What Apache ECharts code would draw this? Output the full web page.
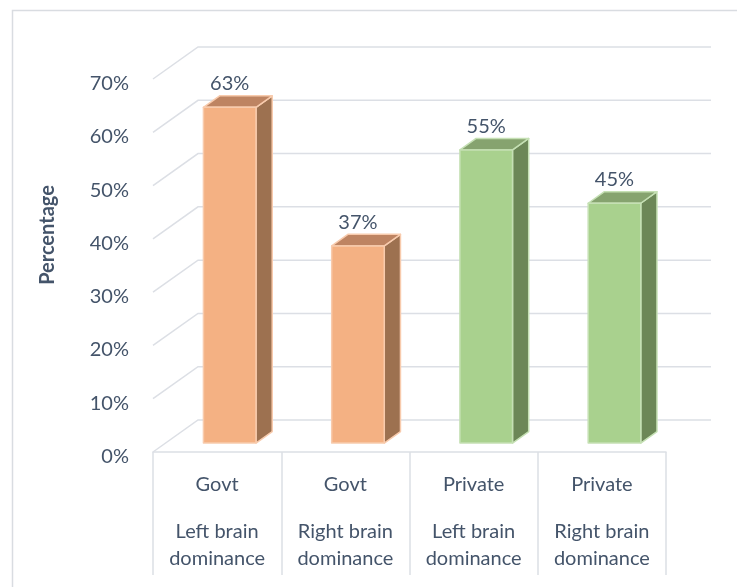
<!DOCTYPE html>
<html>
<head>
<meta charset="utf-8">
<script src="https://cdn.jsdelivr.net/npm/echarts@6/dist/echarts.min.js"></script>
<style>
  html, body { margin: 0; padding: 0; background: #fff; }
  #chart { width: 737px; height: 587px; }
</style>
</head>
<body>
<div id="chart"></div>
<script>
// Groups and sub-categories on the two-level category axis
const groups = ['Govt', 'Govt', 'Private', 'Private'];
const subLabels = ['Left brain\ndominance', 'Right brain\ndominance', 'Left brain\ndominance', 'Right brain\ndominance'];
// Share of students in each group
const values = [0.63, 0.37, 0.55, 0.45];
// Value axis ticks
const tickValues = [0, 0.1, 0.2, 0.3, 0.4, 0.5, 0.6, 0.7];

const TEXT = '#44546A';
const GRID = '#DCDFE5';
const FONT = 'Lato, "Open Sans", sans-serif';

// Oblique projection of the floor depth
const DX = 45, DY = -32;
// Depth slice occupied by the bars (fraction of full depth)
const F0 = 0.28, F1 = 0.64;
const BAR_RATIO = 0.41;

const palette = {
  Govt:    { front: '#F4B183', top: '#BE8462', side: '#9D7150', edge: '#F8CBAD' },
  Private: { front: '#A9D18E', top: '#86A36F', side: '#6C8757', edge: '#C5E0B4' }
};

const pct = v => Math.round(v * 100) + '%';
const categoryData = groups.map((g, i) => g + '\n' + subLabels[i]);

const chart = echarts.init(document.getElementById('chart'), null, { renderer: 'canvas' });

chart.setOption({
  backgroundColor: '#fff',
  animation: false,
  textStyle: { fontFamily: FONT },
  grid: { left: 153, right: 71, top: 79, bottom: 135, containLabel: false, outerBoundsMode: 'none' },
  graphic: [
    {
      type: 'rect', silent: true, z: -10,
      shape: { x: 12.5, y: 10.5, width: 900, height: 800 },
      style: { fill: 'none', stroke: '#D9DCE1', lineWidth: 1.5 }
    },
    {
      type: 'text', silent: true,
      x: 48, y: 235, rotation: Math.PI / 2,
      style: {
        text: 'Percentage', align: 'center', verticalAlign: 'middle',
        font: 'bold 20px ' + FONT, fill: TEXT
      }
    }
  ],
  xAxis: {
    type: 'category',
    data: categoryData,
    boundaryGap: true,
    axisLine: { show: true, lineStyle: { color: GRID, width: 1.5 } },
    axisTick: { show: true, interval: 0, length: 123, lineStyle: { color: GRID, width: 1.5 } },
    axisLabel: {
      interval: 0,
      margin: 0,
      hideOverlap: false,
      formatter: v => {
        const parts = v.split('\n');
        return '{a|' + parts[0] + '}\n' + parts.slice(1).map(p => '{b|' + p + '}').join('\n');
      },
      rich: {
        a: { fontSize: 20, lineHeight: 66, color: TEXT, fontFamily: FONT },
        b: { fontSize: 20, lineHeight: 27, color: TEXT, fontFamily: FONT }
      }
    },
    splitLine: { show: false }
  },
  yAxis: {
    type: 'value',
    min: 0, max: 0.7, interval: 0.1,
    axisLine: { show: false },
    axisTick: { show: false },
    splitLine: { show: false },
    axisLabel: {
      margin: 24,
      formatter: pct,
      color: TEXT, fontSize: 20, fontFamily: FONT,
      verticalAlign: 'top',
      lineHeight: 9
    }
  },
  series: [
    {
      // side wall and back wall gridlines
      type: 'custom',
      z: 1,
      silent: true,
      data: tickValues.map(v => [0, v]),
      encode: { x: 0, y: 1 },
      renderItem: (params, api) => {
        const y = api.coord([0, api.value(1)])[1];
        const cs = params.coordSys;
        return {
          type: 'polyline',
          shape: { points: [[cs.x, y], [cs.x + DX, y + DY], [cs.x + cs.width + DX, y + DY]] },
          style: { stroke: GRID, lineWidth: 1.5, fill: null }
        };
      }
    },
    {
      // 3D-looking bars
      type: 'custom',
      z: 5,
      data: values.map((v, i) => [i, v]),
      encode: { x: 0, y: 1 },
      renderItem: (params, api) => {
        const i = api.value(0), v = api.value(1);
        const c = palette[groups[i]];
        const base = api.coord([i, 0]);
        const top = api.coord([i, v]);
        const w = api.size([1, 0])[0] * BAR_RATIO;
        const ox = DX * F0, oy = DY * F0;
        const dx = DX * (F1 - F0), dy = DY * (F1 - F0);
        const x0 = base[0] - w / 2 + ox, x1 = x0 + w;
        const yb = base[1] + oy, yt = top[1] + oy;
        const edge = { stroke: c.edge, lineWidth: 1.5, lineJoin: 'round' };
        return {
          type: 'group',
          children: [
            {
              type: 'polygon',
              shape: { points: [[x1, yt], [x1 + dx, yt + dy], [x1 + dx, yb + dy], [x1, yb]] },
              style: Object.assign({ fill: c.side }, edge)
            },
            {
              type: 'polygon',
              shape: { points: [[x0, yt], [x1, yt], [x1 + dx, yt + dy], [x0 + dx, yt + dy]] },
              style: Object.assign({ fill: c.top }, edge)
            },
            {
              type: 'rect',
              shape: { x: x0, y: yt, width: w, height: yb - yt },
              style: Object.assign({ fill: c.front }, edge)
            },
            {
              type: 'text',
              x: x0 + w / 2,
              y: yt + dy - 12,
              style: {
                text: pct(v), align: 'center', verticalAlign: 'middle',
                font: '20px ' + FONT, fill: TEXT
              }
            }
          ]
        };
      }
    }
  ]
});
</script>
</body>
</html>
